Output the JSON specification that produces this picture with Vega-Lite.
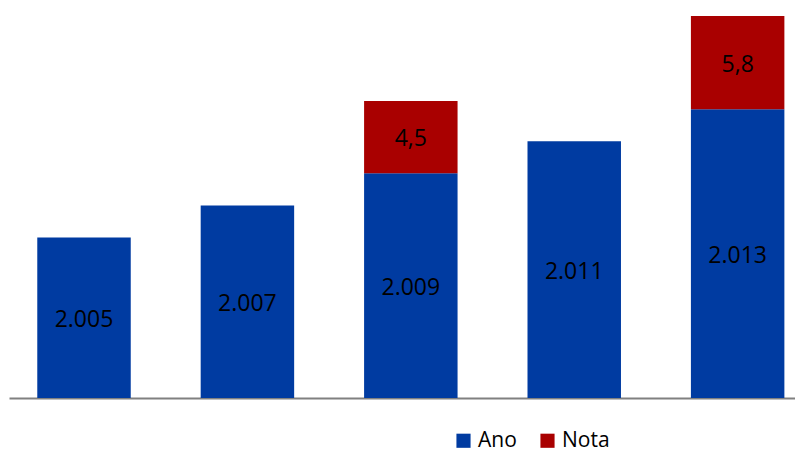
{
  "$schema": "https://vega.github.io/schema/vega-lite/v6.json",
  "width": 786,
  "height": 398,
  "padding": {"left": 9, "top": 0, "right": 0, "bottom": 0},
  "background": "white",
  "config": {"view": {"stroke": null}, "font": "Open Sans"},
  "data": {
    "values": [
      {"categoria": "2005", "serie": "Ano", "valor": 2005, "rotulo": "2.005"},
      {"categoria": "2007", "serie": "Ano", "valor": 2007, "rotulo": "2.007"},
      {"categoria": "2009", "serie": "Ano", "valor": 2009, "rotulo": "2.009"},
      {"categoria": "2009", "serie": "Nota", "valor": 4.5, "rotulo": "4,5"},
      {"categoria": "2011", "serie": "Ano", "valor": 2011, "rotulo": "2.011"},
      {"categoria": "2013", "serie": "Ano", "valor": 2013, "rotulo": "2.013"},
      {"categoria": "2013", "serie": "Nota", "valor": 5.8, "rotulo": "5,8"}
    ]
  },
  "transform": [
    {"stack": "valor", "groupby": ["categoria"], "sort": [{"field": "serie", "order": "ascending"}], "as": ["v0", "v1"]},
    {"calculate": "(max(datum.v0, 1995) + datum.v1) / 2", "as": "meio"}
  ],
  "encoding": {
    "x": {
      "field": "categoria",
      "type": "nominal",
      "scale": {"paddingInner": 0.428, "paddingOuter": 0.119, "align": 0.727},
      "axis": {"labels": false, "ticks": false, "title": null, "domainColor": "#808080", "domainWidth": 2}
    }
  },
  "layer": [
    {
      "mark": {"type": "bar"},
      "encoding": {
        "y": {
          "field": "v0",
          "type": "quantitative",
          "scale": {"domain": [1995, 2019.8], "nice": false, "zero": false, "clamp": true},
          "axis": null
        },
        "y2": {"field": "v1"},
        "color": {
          "field": "serie",
          "type": "nominal",
          "scale": {"domain": ["Ano", "Nota"], "range": ["#003BA1", "#A90000"]},
          "legend": {
            "title": null,
            "orient": "none",
            "direction": "horizontal",
            "legendX": 444,
            "legendY": 430,
            "symbolType": "square",
            "symbolSize": 200,
            "symbolStrokeWidth": 0,
            "symbolOpacity": 1,
            "labelFontSize": 21,
            "labelColor": "#000000",
            "labelOffset": 4,
            "columnPadding": 20,
            "labelFont": "Open Sans"
          }
        }
      }
    },
    {
      "mark": {"type": "text", "fontSize": 23, "color": "#000000", "baseline": "middle", "align": "center", "dy": 2},
      "encoding": {
        "y": {"field": "meio", "type": "quantitative"},
        "text": {"field": "rotulo"}
      }
    }
  ]
}
